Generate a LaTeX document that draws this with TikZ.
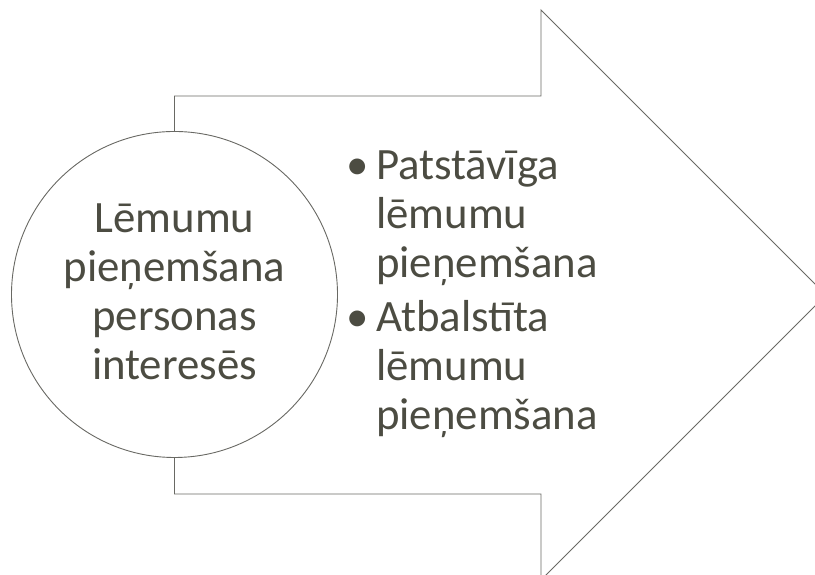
\documentclass[tikz,border=0pt]{standalone}
\usepackage{fontspec}
\setmainfont{Carlito}
\definecolor{txtc}{RGB}{76,76,66}
\definecolor{linec}{RGB}{105,105,100}
\tikzset{
  outline/.style={draw=linec, line width=0.9pt, line join=miter},
  txt/.style={inner sep=0pt, text=txtc, font=\fontsize{44.8}{49}\selectfont},
  ctxt/.style={txt, anchor=base},
  rtxt/.style={txt, anchor=base west},
  bul/.style={txt, anchor=base}
}
\begin{document}
\begin{tikzpicture}[x=1pt,y=1pt]
\useasboundingbox (0,0) rectangle (815,575);
\clip (0,0) rectangle (815,575);
% arrow
\coordinate (a1) at (174.5,479);
\coordinate (a2) at (541,479);
\coordinate (a3) at (541,565);
\coordinate (a4) at (826,280);
\coordinate (a5) at (541,-5);
\coordinate (a6) at (541,81);
\coordinate (a7) at (174.5,81);
\draw[outline] (a1) -- (a2) -- (a3) -- (a4) -- (a5) -- (a6) -- (a7) -- cycle;
% circle
\node[circle, outline, fill=white, minimum size=326pt, inner sep=0pt] (c) at (174.5,280.5) {};
% circle text
\node[ctxt] (c1) at (174.5,342) {Lēmumu};
\node[ctxt] (c2) at (174.5,293) {pieņemšana};
\node[ctxt] (c3) at (174.5,244) {personas};
\node[ctxt] (c4) at (174.5,195) {interesēs};
% bullets
\node[bul] (b1) at (357.5,395) {•};
\node[rtxt] (r1) at (376,395) {Patstāvīga};
\node[rtxt] (r2) at (376,346) {lēmumu};
\node[rtxt] (r3) at (376,297) {pieņemšana};
\node[bul] (b2) at (357.5,243) {•};
\node[rtxt] (r4) at (376,243) {Atbalstīta};
\node[rtxt] (r5) at (376,194) {lēmumu};
\node[rtxt] (r6) at (376,145) {pieņemšana};
\end{tikzpicture}
\end{document}
